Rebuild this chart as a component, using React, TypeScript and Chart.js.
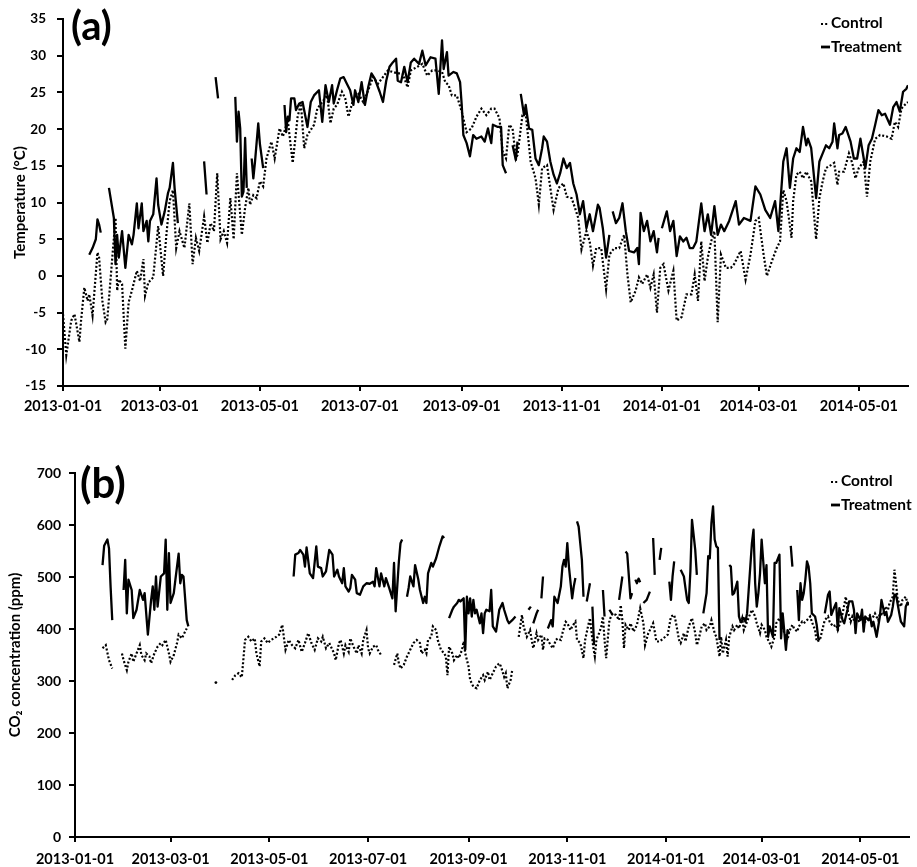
import React, { useEffect, useRef } from "react";
import { Chart, registerables } from "chart.js";

Chart.register(...registerables);

type Pt = [number, number | null];

// x axis: days since 2013-01-01
const tickDays = [0, 59, 120, 181, 243, 304, 365, 424, 485];
const tickLabels = [
  "2013-01-01", "2013-03-01", "2013-05-01", "2013-07-01", "2013-09-01",
  "2013-11-01", "2014-01-01", "2014-03-01", "2014-05-01",
];
const lastDay = 515;

// (a) Temperature (°C)  [day, value]
const tempControl: Pt[] = [
  [0,-5.2],[2,-10.8],[5,-6.1],[7,-5.2],[10,-9],[11,-6.1],[13,-1.6],[15,-3.4],[16,-2.5],[18,-5.4],[21,3.2],[22,2.5],[24,-3.4],[26,-6.3],[27,-5.9],[32,7.9],[33,-2],[34,-0.5],[36,-1.1],[38,-9.9],[40,-3.6],[42,-2],[45,0.7],[47,-0.7],[49,2.3],[50,-2.7],[52,-0.9],[55,-0.2],[58,6.8],[61,0],[63,5.6],[65,10.2],[67,11.7],[69,3.8],[71,6.1],[74,3.8],[77,9.9],[79,1.6],[81,5.2],[83,3.4],[86,8.1],[88,4.5],[90,7.2],[92,6.1],[94,14],[96,5],[98,6.1],[100,4.5],[102,10.6],[104,5],[106,14],[109,5.6],[111,9.3],[113,12],[114,9.7],[116,11],[118,10.6],[120,12.9],[122,12.2],[124,16],[127,18.3],[129,16],[132,20.1],[134,19],[137,21.2],[140,15.4],[143,21.7],[145,23.5],[147,17.4],[149,19.2],[153,20.6],[155,22.8],[158,23.7],[161,24.6],[163,20.8],[165,22.8],[167,23.3],[170,25.1],[172,24.2],[174,21.7],[177,24.2],[180,24.8],[183,23.7],[186,25.3],[189,27.1],[192,26.2],[195,27.1],[198,28],[201,27.8],[204,27.6],[207,27.6],[210,25.7],[212,28],[216,28.5],[219,28.9],[222,27.3],[225,28],[228,28],[231,27.8],[233,26.4],[235,26],[237,24.6],[240,24.6],[243,22.4],[246,19.6],[249,20.1],[252,21.7],[255,22.8],[258,21.9],[261,22.8],[263,22.8],[266,21.5],[268,16.9],[270,16],[272,20.6],[274,20.1],[276,16],[277,16.5],[280,21.9],[282,22.1],[285,15.6],[288,13.3],[290,9.7],[292,14.7],[295,15.1],[297,12],[299,9],[302,12],[305,12.6],[307,10.8],[310,10.6],[312,9.3],[314,7.9],[316,3.6],[319,6.1],[321,4.7],[323,1.4],[325,3.8],[328,3.8],[331,-1.8],[333,2.9],[336,3.8],[339,3.8],[342,5.6],[344,0.2],[346,-3.6],[349,-2],[351,-0.2],[353,-1.1],[356,0.2],[358,-1.6],[360,0.2],[362,-5],[364,1.1],[366,1.6],[369,-2],[372,0.7],[374,-6.1],[377,-5.6],[380,-2.5],[383,-2.5],[385,0.2],[387,-3.4],[389,4.7],[391,-0.7],[393,2.5],[395,4.7],[397,6.1],[399,-6.3],[401,2.9],[404,1.1],[407,1.1],[409,1.6],[413,3.4],[416,-0.5],[419,2.9],[422,7.5],[424,7.9],[427,2.9],[429,0],[432,2],[435,3.8],[437,4.7],[439,11.7],[441,10.2],[444,5.2],[445,10.2],[447,13.8],[449,14.2],[451,13.3],[453,14.2],[456,12.9],[459,5],[461,10.6],[463,12.9],[465,14.7],[468,15.1],[470,15.4],[472,12.4],[473,14.2],[476,14.2],[479,16.7],[481,15.4],[483,13.3],[485,14.7],[488,15.6],[490,10.8],[492,15.6],[495,18.7],[498,19.2],[502,19],[505,18.7],[507,21],[509,20.3],[511,22.8],[513,23.3],[515,23.7],
];

const tempTreatment: Pt[] = [
  [16,2.9],[18,3.8],[20,5],[21,7.7],[22,7],[23,5.9],[25,null],
  [28,12],[31,7.9],[32,1.6],[33,5.6],[34,2.5],[36,6.1],[37,3.6],[38,1.1],[40,5.6],[42,4.3],[43,5.6],[45,9.9],[46,6.5],[48,9.9],[49,6.1],[51,7.5],[52,4.7],[53,7.5],[55,8.4],[57,13.3],[58,9.7],[60,7],[62,8.8],[64,11.3],[65,12],[67,15.4],[68,12],[70,7.2],[75,null],
  [86,15.6],[87.5,11.1],[90,null],
  [93,27.1],[94.5,24.2],[100,null],
  [105,24.4],[106,18.3],[107,22.4],[108,20.1],[109,10.8],[110,11.5],[111,18.8],[112,12],[113.5,null],
  [115,16],[116,13.3],[117,15.5],[119,20.8],[120,18],[122,14.7],[128,null],
  [135,23.3],[136,19.6],[137,21.7],[138,21.2],[139,24.2],[141,24.2],[142,22.6],[144,23.5],[146,23.7],[149,20.3],[151,23.7],[153,24.6],[156,25.3],[158,21],[160,26],[162,23.7],[164,26],[165,23.5],[167,25.3],[169,26.9],[171,27.1],[173,26.2],[175,25.3],[177,23.3],[178,25.3],[180,23.7],[182,26.4],[184,23.3],[186,25.7],[188,27.6],[190,26.9],[193,25.1],[195,23.7],[197,26.6],[199,28.5],[201,29.1],[203,29.6],[204,26.6],[206,26.4],[208,28.5],[210,26.4],[212,29.1],[214,29.6],[217,28.9],[219,30.7],[221,28.7],[224,29.8],[227,29.6],[229,24.8],[231,32.1],[232,28.2],[234,30.5],[235,27.3],[238,27.8],[240,27.6],[242,26.4],[243,23.3],[244,19.2],[246,18.1],[248,16.3],[250,19.2],[252,18.7],[255,19],[257,18.3],[259,20.1],[261,18.1],[262,20.6],[265,20.3],[267,20.3],[268,15.1],[270,14],[272,null],
  [274,17.8],[276,15.8],[277,18.3],[278,null],
  [279,24.8],[281,21.9],[282,23.3],[284,20.1],[286,19.9],[288,16],[290,15.1],[292,17.4],[293,19],[295,18.3],[297,15.6],[299,13.8],[301,12.6],[303,14],[305,16],[307,14.7],[309,15.4],[311,12.6],[313,11.1],[315,8.4],[317,10.2],[319,6.5],[321,8.4],[323,6.1],[326,9.7],[327,9.3],[329,6.5],[331,2.5],[333,5.6],[334,null],
  [335,8.8],[337,7.2],[339,7.9],[341,9.9],[343,6.1],[345,3.4],[348,3.2],[350,3.8],[351,1.6],[352,8.6],[354,6.1],[356,7.5],[358,4.7],[360,6.1],[362,3.2],[363,5.2],[364,null],
  [365,6.5],[368,8.8],[370,6.1],[372,7.5],[374,2.7],[376,5.4],[378,4.7],[380,5.2],[382,3.8],[384,3.8],[386,4.7],[389,9.9],[391,6.1],[393,8.4],[395,5.6],[397,9.5],[399,5.6],[401,7],[403,6.1],[406,7.5],[410,10.2],[412,7],[415,7.9],[419,7.5],[422,12.2],[425,11.1],[428,9],[431,7.9],[434,10.2],[436,6.1],[438,12.4],[439,15.6],[441,17.4],[443,12],[445,16],[447,17.4],[449,16.9],[451,20.3],[453,17.8],[454,18.7],[456,17.4],[459,10.6],[461,15.6],[463,16.7],[465,17.8],[467,17.4],[469,18.3],[470,20.8],[472,17.4],[473,19.2],[475,19.4],[477,20.3],[480,18.3],[482,16],[484,16],[486,18.7],[489,14.7],[491,17.8],[493,18.7],[495,20.6],[497,22.6],[499,21.9],[501,22.1],[504,20.6],[506,23],[508,23.7],[510,22.4],[512,25.1],[514,25.5],[515,26],
];

// (b) CO2 concentration (ppm)  [day, value]
const co2Control: Pt[] = [
  [17,363],[19,369],[21,340],[23,324],[26,null],
  [29,353],[30,340],[32,321],[33,337],[35,353],[36,337],[38,353],[40,369],[41,350],[43,340],[44,353],[46,347],[47,334],[49,353],[51,366],[53,373],[54,369],[56,379],[58,353],[59,337],[61,350],[63,373],[64,389],[66,382],[68,395],[69,401],[75,null],
  [87,297],[90,null],
  [97,302],[99,311],[101,315],[103,307],[105,379],[107,385],[109,376],[111,382],[112,353],[114,328],[115,376],[117,382],[119,373],[121,379],[123,382],[126,389],[128,408],[130,360],[132,379],[134,369],[136,363],[138,379],[140,356],[142,373],[144,392],[146,373],[148,360],[150,382],[152,376],[153,385],[155,363],[157,373],[160,353],[161,340],[163,373],[164,379],[166,353],[167,369],[169,356],[170,382],[172,366],[174,353],[175,369],[177,353],[178,379],[180,398],[181,363],[182,353],[184,366],[186,369],[187,360],[189,350],[193,null],
  [197,331],[199,353],[200,334],[201,324],[203,331],[205,347],[207,360],[209,373],[211,379],[213,373],[214,353],[216,360],[217,353],[218,379],[220,385],[221,405],[223,398],[224,379],[226,360],[228,353],[229,347],[230,311],[231,366],[233,353],[234,340],[236,350],[237,344],[239,360],[240,376],[241,353],[243,328],[244,302],[246,289],[248,286],[250,302],[252,311],[253,302],[255,318],[256,302],[258,315],[260,328],[262,334],[263,328],[265,308],[266,315],[267,286],[269,302],[270,321],[272,null],
  [274,385],[276,427],[277,405],[279,385],[281,398],[282,379],[283,363],[285,392],[286,379],[288,389],[289,360],[290,382],[292,379],[293,373],[295,363],[297,379],[298,382],[300,379],[301,392],[303,414],[304,411],[306,398],[307,405],[309,414],[310,379],[312,373],[314,344],[315,379],[317,408],[318,421],[320,366],[321,347],[322,379],[324,395],[325,405],[326,424],[327,379],[328,344],[330,417],[332,430],[334,427],[336,417],[337,446],[338,417],[339,363],[340,408],[342,398],[343,411],[345,395],[347,408],[348,424],[349,440],[351,411],[352,369],[354,392],[355,398],[357,411],[358,395],[359,376],[361,376],
  [366,389],[368,424],[370,427],[371,414],[373,379],[374,373],[376,392],[377,376],[379,405],[381,421],[383,392],[384,369],[385,379],[387,405],[389,411],[390,398],[392,405],[393,417],[395,392],[396,385],[398,347],[399,385],[400,353],[402,379],[403,347],[404,385],[406,405],[407,398],[409,408],[410,401],[412,421],[413,398],[415,414],[417,430],[418,437],[420,424],[421,411],[423,392],[424,408],[426,398],[427,385],[429,373],[430,366],[432,385],[433,411],[435,421],[437,405],[438,392],[440,379],[441,395],[443,408],[444,401],[446,395],[447,405],[449,414],[450,411],[452,417],[454,424],[455,414],[457,398],[458,376],[460,379],[462,405],[463,417],[465,424],[466,414],[468,405],[470,408],[471,398],[473,417],[474,430],[476,462],[477,437],[479,414],[480,424],[482,411],[483,414],[485,417],[487,424],[488,414],[489,417],[491,427],[493,424],[494,430],[496,417],[497,430],[499,427],[500,443],[502,437],[503,450],[505,462],[506,514],[507,488],[508,456],[510,443],[511,456],[513,462],[514,450],[515,456],
];

const co2Treatment: Pt[] = [
  [17,523],[18,560],[20,572],[21,555],[22,480],[23,417],[26,null],
  [30,475],[31,533],[32,430],[33,495],[35,475],[36,421],[38,437],[40,475],[42,456],[43,469],[45,389],[47,456],[48,482],[49,437],[50,501],[51,443],[53,501],[55,507],[56,572],[57,437],[58,546],[59,450],[61,469],[62,495],[64,545],[65,488],[66,504],[67,501],[69,417],[70,405],[80,null],
  [135,501],[136,543],[138,546],[139,552],[141,543],[142,520],[143,557],[145,507],[147,498],[149,559],[150,520],[152,517],[153,501],[155,511],[157,552],[159,543],[160,501],[162,514],[163,501],[165,488],[166,517],[167,482],[169,472],[170,479],[171,504],[173,495],[174,469],[176,466],[178,482],[180,488],[182,487],[184,491],[185,482],[186,517],[188,482],[189,507],[191,482],[192,498],[194,479],[196,459],[197,527],[198,434],[200,530],[201,565],[202,572],[203.5,null],
  [205,462],[206,479],[207,501],[209,482],[210,523],[212,495],[213,475],[215,450],[216,462],[217,450],[218,507],[220,527],[221,520],[223,536],[225,559],[227,578],[228,575],[230,null],
  [231,421],[233,437],[234,443],[236,450],[237,456],[238,453],[240,459],[241,360],[242,462],[243,430],[244,459],[245,424],[246,456],[247,430],[248,437],[250,411],[251,430],[252,392],[253,430],[254,437],[256,434],[257,475],[258,405],[260,395],[262,437],[264,450],[265,437],[267,417],[268,411],[270,417],[272,424],[275,null],
  [280,437],[281.5,443],[282,null],
  [283,411],[285,430],[286,437],[287,null],
  [288,459],[289,501],[291,null],
  [292,401],[294,417],[295,405],[296,462],[298,450],[300,482],[301,520],[302,533],[303,520],[304,565],[305,520],[307,459],[308,482],[309,498],[309.5,null],
  [310,607],[311,597],[313,533],[314,462],[315,null],
  [316,453],[318,488],[319,null],
  [319.5,443],[320.5,369],[322,null],
  [326,475],[327,424],[328.5,null],
  [330,437],[332,427],[334,null],
  [336,456],[338,501],[339.5,null],
  [340,549],[341,545],[343,459],[344,469],[345,null],
  [346,495],[347,488],[348,497],[349,490],[350,null],
  [351,450],[353,456],[355,472],[356,null],
  [357,575],[358,504],[359,null],
  [361,533],[362,556],[364,null],
  [367,491],[368,456],[369,501],[370,530],[372,null],
  [374,514],[376,501],[377,478],[378,456],[379,450],[380,511],[381,610],[383,552],[384,504],[386,null],
  [388,430],[390,469],[391,540],[392,536],[393,604],[394,636],[395,572],[396,559],[397,556],[398,379],[400,null],
  [404,523],[405,520],[406,466],[407,469],[409,491],[410,424],[411,414],[412,417],[413,421],[414,414],[415,430],[416,475],[418,565],[419,591],[420,488],[421,443],[422,469],[423,507],[424,572],[426,488],[427,523],[428,385],[429,405],[431,385],[432,527],[433,527],[435,543],[436,382],[437,430],[439,360],[440,398],[441,392],[441.8,null],
  [442,560],[443,520],[444,null],
  [446,475],[447,417],[448,488],[449,456],[450,469],[451,495],[452,530],[453,520],[454,488],[455,430],[457,424],[458,408],[459,382],[460,379],[462,null],
  [463,430],[465,466],[466,472],[467,427],[469,443],[470,450],[471,398],[472,440],[474,417],[475,411],[477,437],[478,453],[480,453],[481,437],[482,392],[483,430],[485,417],[486,437],[487,395],[488,424],[490,417],[491,424],[492,405],[493,414],[495,385],[497,424],[498,456],[500,427],[501,433],[502,414],[504,427],[505,443],[506,466],[507,466],[509,430],[510,414],[512,405],[513,443],[514,450],[515,446],
];

const FONT = "Lato";

function toPoints(arr: Pt[]) {
  return arr.map(([x, y]) => ({ x, y }));
}
function isolatedRadius(arr: Pt[]) {
  return arr.map((p, i) => {
    if (p[1] === null) return 0;
    const prevNull = i === 0 || arr[i - 1][1] === null;
    const nextNull = i === arr.length - 1 || arr[i + 1][1] === null;
    return prevNull && nextNull ? 1.4 : 0;
  });
}

interface PanelOpts {
  control: Pt[];
  treatment: Pt[];
  yMin: number;
  yMax: number;
  yStep: number;
  yTitle: string;
  yTitleFont: { size: number; weight: string };
  yTitlePad: number;
  yTickSize: number;
  yTickPad: number;
  yWidth: number;
  xHeight: number;
  xTickPad: number;
  padding: { left: number; right: number; top: number; bottom: number };
  label: string;
  labelSize: number;
  labelX: number;
  labelY: number;
  legendX: number;
  legendY1: number;
  legendY2: number;
}

function makeOverlay(o: PanelOpts) {
  return {
    id: "overlay",
    afterDraw(chart: any) {
      const ctx = chart.ctx as CanvasRenderingContext2D;
      ctx.save();
      ctx.fillStyle = "#000";
      ctx.strokeStyle = "#000";
      ctx.font = `bold ${o.labelSize}px ${FONT}`;
      ctx.textBaseline = "alphabetic";
      ctx.textAlign = "left";
      ctx.fillText(o.label, o.labelX, o.labelY);
      // legend
      ctx.font = `bold 15.5px ${FONT}`;
      ctx.textBaseline = "middle";
      ctx.lineWidth = 2.2;
      ctx.setLineDash([2, 2.2]);
      ctx.beginPath();
      ctx.moveTo(o.legendX, o.legendY1 + 1);
      ctx.lineTo(o.legendX + 7, o.legendY1 + 1);
      ctx.stroke();
      ctx.setLineDash([]);
      ctx.lineWidth = 2.8;
      ctx.beginPath();
      ctx.moveTo(o.legendX, o.legendY2);
      ctx.lineTo(o.legendX + 9, o.legendY2);
      ctx.stroke();
      ctx.fillText("Control", o.legendX + 10, o.legendY1);
      ctx.fillText("Treatment", o.legendX + 10, o.legendY2);
      ctx.restore();
    },
  };
}

function makeConfig(o: PanelOpts): any {
  return {
    type: "line",
    data: {
      datasets: [
        {
          label: "Control",
          data: toPoints(o.control),
          borderColor: "#000",
          backgroundColor: "#000",
          borderWidth: 2.2,
          borderDash: [2, 2],
          borderCapStyle: "butt",
          pointRadius: isolatedRadius(o.control),
          pointBorderWidth: 0,
          pointHoverRadius: 0,
          tension: 0,
          spanGaps: false,
        },
        {
          label: "Treatment",
          data: toPoints(o.treatment),
          borderColor: "#000",
          backgroundColor: "#000",
          borderWidth: 2.3,
          borderJoinStyle: "round",
          pointRadius: isolatedRadius(o.treatment),
          pointBorderWidth: 0,
          pointHoverRadius: 0,
          tension: 0,
          spanGaps: false,
        },
      ],
    },
    options: {
      responsive: false,
      animation: false,
      events: [],
      layout: { padding: o.padding },
      plugins: {
        legend: { display: false },
        tooltip: { enabled: false },
        title: { display: false },
      },
      scales: {
        x: {
          type: "linear",
          min: 0,
          max: lastDay,
          afterBuildTicks: (s: any) => {
            s.ticks = tickDays.map((v) => ({ value: v }));
          },
          afterFit: (s: any) => {
            s.height = o.xHeight;
          },
          ticks: {
            autoSkip: false,
            maxRotation: 0,
            minRotation: 0,
            color: "#000",
            padding: o.xTickPad,
            font: { family: FONT, size: 14.5, weight: "bold" },
            callback: (v: any) => {
              const i = tickDays.indexOf(Number(v));
              return i >= 0 ? tickLabels[i] : "";
            },
          },
          grid: {
            display: true,
            drawOnChartArea: false,
            drawTicks: true,
            tickLength: 5,
            color: "#000",
            lineWidth: 2,
          },
          border: { display: true, color: "#000", width: 2 },
        },
        y: {
          type: "linear",
          min: o.yMin,
          max: o.yMax,
          afterFit: (s: any) => {
            s.width = o.yWidth;
          },
          ticks: {
            stepSize: o.yStep,
            color: "#000",
            padding: o.yTickPad,
            font: { family: FONT, size: o.yTickSize, weight: "bold" },
          },
          grid: {
            display: true,
            drawOnChartArea: false,
            drawTicks: true,
            tickLength: 6,
            color: "#000",
            lineWidth: 2,
          },
          border: { display: true, color: "#000", width: 2 },
          title: {
            display: true,
            text: o.yTitle,
            color: "#000",
            font: { family: FONT, size: o.yTitleFont.size, weight: o.yTitleFont.weight, lineHeight: 1.2 },
            padding: { top: o.yTitlePad, bottom: 0 },
          },
        },
      },
    },
    plugins: [makeOverlay(o)],
  };
}

const panelA: PanelOpts = {
  control: tempControl,
  treatment: tempTreatment,
  yMin: -15,
  yMax: 35,
  yStep: 5,
  yTitle: "Temperature (°C)",
  yTitleFont: { size: 15, weight: "bold" },
  yTitlePad: 11,
  yTickSize: 13.5,
  yTickPad: 11,
  yWidth: 63,
  xHeight: 44,
  xTickPad: 7,
  padding: { left: 0, right: 9, top: 17, bottom: 0 },
  label: "(a)",
  labelSize: 40,
  labelX: 71,
  labelY: 40,
  legendX: 821,
  legendY1: 23,
  legendY2: 47,
};

const panelB: PanelOpts = {
  control: co2Control,
  treatment: co2Treatment,
  yMin: 0,
  yMax: 700,
  yStep: 100,
  yTitle: "CO\u2082 concentration (ppm)",
  yTitleFont: { size: 15, weight: "bold" },
  yTitlePad: 6,
  yTickSize: 14,
  yTickPad: 8,
  yWidth: 75,
  xHeight: 30,
  xTickPad: 9,
  padding: { left: 0, right: 8, top: 33, bottom: 0 },
  label: "(b)",
  labelSize: 42,
  labelX: 80,
  labelY: 58,
  legendX: 831,
  legendY1: 41,
  legendY2: 65,
};

function Panel({ opts, top, height }: { opts: PanelOpts; top: number; height: number }) {
  const ref = useRef<HTMLCanvasElement | null>(null);
  useEffect(() => {
    if (!ref.current) return;
    const chart = new Chart(ref.current, makeConfig(opts));
    return () => chart.destroy();
  }, [opts]);
  return (
    <canvas
      ref={ref}
      width={917}
      height={height}
      style={{ position: "absolute", left: 0, top, width: 917, height }}
    />
  );
}

export default function App() {
  return (
    <div
      style={{
        position: "absolute",
        left: 0,
        top: 0,
        width: 917,
        height: 867,
        background: "#fff",
        overflow: "hidden",
      }}
    >
      <Panel opts={panelA} top={0} height={430} />
      <Panel opts={panelB} top={440} height={427} />
    </div>
  );
}
